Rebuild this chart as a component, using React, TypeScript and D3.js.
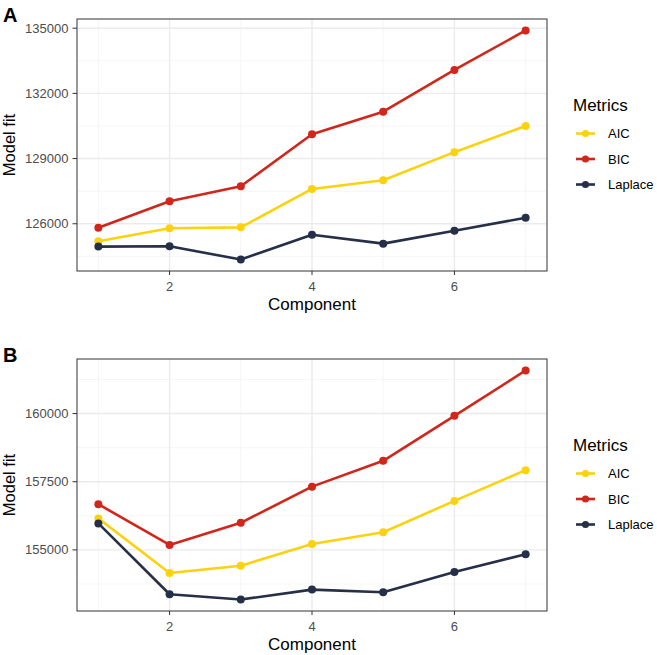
import React from "react";
import * as d3 from "d3";

const components = [1, 2, 3, 4, 5, 6, 7];
const metrics = ["AIC", "BIC", "Laplace"];
const colors = ["#FCD20F", "#D0261B", "#252F47"];

const aicA = [125195, 125790, 125835, 127602, 128000, 129295, 130503];
const bicA = [125817, 127039, 127725, 130118, 131157, 133079, 134896];
const lapA = [124948, 124966, 124353, 125497, 125085, 125680, 126275];

const aicB = [156155, 154151, 154417, 155219, 155645, 156796, 157925];
const bicB = [156675, 155182, 155994, 157320, 158267, 159917, 161581];
const lapB = [155972, 153372, 153179, 153543, 153445, 154188, 154843];

const ticksA = [126000, 129000, 132000, 135000];
const minorA = [124500, 127500, 130500, 133500];
const ticksB = [155000, 157500, 160000];
const minorB = [153750, 156250, 158750, 161250];
const xTicks = [2, 4, 6];
const xMinor = [1, 3, 5, 7];

const FONT = "Liberation Sans, Arial, Helvetica, sans-serif";
const L = 77, R = 547;

type PanelProps = {
  label: string;
  top: number;
  bottom: number;
  series: number[][];
  ticks: number[];
  minor: number[];
};

function Panel({ label, top, bottom, series, ticks, minor }: PanelProps) {
  const all = series.flat();
  const [mn, mx] = d3.extent(all) as [number, number];
  const pad = (mx - mn) * 0.05;
  const y = d3.scaleLinear().domain([mn - pad, mx + pad]).range([bottom, top]);
  const x = d3.scaleLinear().domain([0.7, 7.3]).range([L, R]);
  const line = d3
    .line<number>()
    .x((_, i) => x(components[i]))
    .y((v) => y(v));
  const cy = (top + bottom) / 2;
  return (
    <g>
      <text x={3} y={top + 3} fontFamily={FONT} fontWeight="bold" fontSize={20} fill="#000">
        {label}
      </text>
      <rect x={L} y={top} width={R - L} height={bottom - top} fill="#fff" />
      {minor.map((t) => (
        <line key={"ym" + t} x1={L} x2={R} y1={y(t)} y2={y(t)} stroke="#F2F2F2" strokeWidth={0.8} />
      ))}
      {xMinor.map((t) => (
        <line key={"xm" + t} x1={x(t)} x2={x(t)} y1={top} y2={bottom} stroke="#F2F2F2" strokeWidth={0.8} />
      ))}
      {ticks.map((t) => (
        <line key={"y" + t} x1={L} x2={R} y1={y(t)} y2={y(t)} stroke="#EBEBEB" strokeWidth={1.4} />
      ))}
      {xTicks.map((t) => (
        <line key={"x" + t} x1={x(t)} x2={x(t)} y1={top} y2={bottom} stroke="#EBEBEB" strokeWidth={1.4} />
      ))}
      {series.map((s, i) => (
        <g key={metrics[i]}>
          <path d={line(s) || ""} fill="none" stroke={colors[i]} strokeWidth={2.6} strokeLinejoin="round" />
          {s.map((v, j) => (
            <circle key={j} cx={x(components[j])} cy={y(v)} r={4} fill={colors[i]} />
          ))}
        </g>
      ))}
      <rect x={L} y={top} width={R - L} height={bottom - top} fill="none" stroke="#333333" strokeWidth={1} />
      {ticks.map((t) => (
        <g key={"yt" + t}>
          <line x1={L - 4.5} x2={L} y1={y(t)} y2={y(t)} stroke="#333333" strokeWidth={1} />
          <text x={L - 8.5} y={y(t)} dy="0.35em" textAnchor="end" fontFamily={FONT} fontSize={13} fill="#4D4D4D">
            {t}
          </text>
        </g>
      ))}
      {xTicks.map((t) => (
        <g key={"xt" + t}>
          <line x1={x(t)} x2={x(t)} y1={bottom} y2={bottom + 4} stroke="#333333" strokeWidth={1} />
          <text x={x(t)} y={bottom + 19.5} textAnchor="middle" fontFamily={FONT} fontSize={13} fill="#4D4D4D">
            {t}
          </text>
        </g>
      ))}
      <text x={(L + R) / 2} y={bottom + 39} textAnchor="middle" fontFamily={FONT} fontSize={17} fill="#000">
        Component
      </text>
      <text
        transform={`translate(${14.5},${cy}) rotate(-90)`}
        textAnchor="middle"
        fontFamily={FONT}
        fontSize={16.5}
        fill="#000"
      >
        Model fit
      </text>
      <g>
        <text x={573} y={cy - 40.5 + 6} fontFamily={FONT} fontSize={17} fill="#000">
          Metrics
        </text>
        {metrics.map((m, i) => {
          const ky = cy - 11.5 + i * 25.5;
          return (
            <g key={m}>
              <line x1={576} x2={595} y1={ky} y2={ky} stroke={colors[i]} strokeWidth={2.6} />
              <circle cx={585.5} cy={ky} r={3.6} fill={colors[i]} />
              <text x={608} y={ky} dy="0.35em" fontFamily={FONT} fontSize={13} fill="#000">
                {m}
              </text>
            </g>
          );
        })}
      </g>
    </g>
  );
}

export default function App() {
  return (
    <svg
      width={657}
      height={655}
      style={{ position: "absolute", left: 0, top: 0, background: "#fff" }}
    >
      <rect width={657} height={655} fill="#fff" />
      <Panel label="A" top={19} bottom={271} series={[aicA, bicA, lapA]} ticks={ticksA} minor={minorA} />
      <Panel label="B" top={359} bottom={611} series={[aicB, bicB, lapB]} ticks={ticksB} minor={minorB} />
    </svg>
  );
}
